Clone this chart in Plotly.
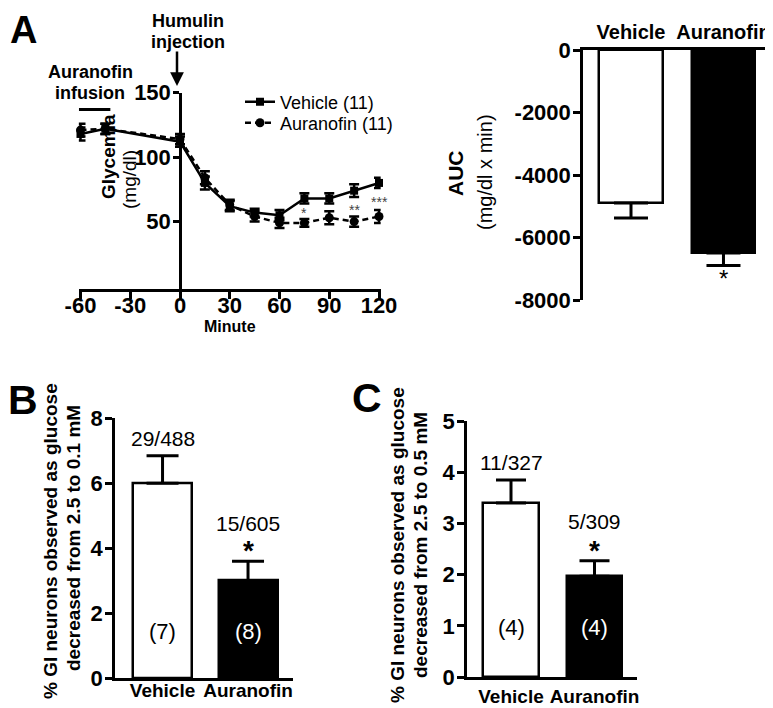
import plotly.graph_objects as go

# Window is 773x708, but the page body keeps its default 8px margin,
# so the figure is drawn 8px in from the top-left corner.
W, H = 773, 708
OX, OY = 8, 8
FW, FH = W - OX, H - OY
FONT = "Arial, 'Liberation Sans', Helvetica, sans-serif"

# ---------------- data ----------------
# Panel A - glycemia time course
minutes = [-60, -45, 0, 15, 30, 45, 60, 75, 90, 105, 120]
vehicle_glyc = [118, 122, 112, 80, 62, 57, 55, 68, 68, 74, 80]
vehicle_glyc_sem = [5, 4, 4, 5, 4, 3, 4, 4, 4, 5, 4]
auranofin_glyc = [121, 122, 114, 84, 63, 54, 49, 49, 53, 50, 54]
auranofin_glyc_sem = [5, 4, 4, 5, 4, 4, 4, 3, 5, 4, 5]
minute_ticks = [-60, -30, 0, 30, 60, 90, 120]
minute_tick_labels = ["-60", "-30", "0", "30", "60", "90", "120"]
glyc_ticks = [50, 100, 150]
sig_minutes = [75, 105, 120]
sig_labels = ["*", "**", "***"]
sig_y = [57, 59, 65]
infusion_start, infusion_end, infusion_level = -61, -42, 137

# Panel A - AUC
groups = ["Vehicle", "Auranofin"]
auc = [-4900, -6500]
auc_sem = [480, 400]
auc_ticks = [0, -2000, -4000, -6000, -8000]
auc_tick_labels = ["0", "-2000", "-4000", "-6000", "-8000"]
auc_sig = ["", "*"]
auc_sig_y = -7300

# Panel B
pct_b = [6.0, 3.0]
pct_b_sem = [0.85, 0.6]
ratio_b = ["29/488", "15/605"]
ratio_b_y = [7.38, 4.77]
n_b = ["(7)", "(8)"]
n_b_y = 1.42
sig_b = ["", "*"]
sig_b_y = 3.94
ticks_b = [0, 2, 4, 6, 8]

# Panel C
pct_c = [3.4, 1.97]
pct_c_sem = [0.45, 0.3]
ratio_c = ["11/327", "5/309"]
ratio_c_y = [4.18, 3.03]
n_c = ["(4)", "(4)"]
n_c_y = 0.96
sig_c = ["", "*"]
sig_c_y = 2.48
ticks_c = [0, 1, 2, 3, 4, 5]

bar_fill = ["white", "black"]
n_text_color = ["black", "white"]


def px(x):
    return (x - OX) / FW


def py(y):
    return 1 - (y - OY) / FH


fig = go.Figure()

# ---- Panel A line chart
fig.add_trace(go.Scatter(
    x=minutes, y=vehicle_glyc, name="Vehicle (11)", mode="lines+markers",
    line=dict(color="black", width=2.5),
    marker=dict(symbol="square", size=8, color="black"),
    error_y=dict(type="data", array=vehicle_glyc_sem, color="black", thickness=2.5, width=5),
    cliponaxis=False, xaxis="x", yaxis="y", legend="legend"))
fig.add_trace(go.Scatter(
    x=minutes, y=auranofin_glyc, name="Auranofin (11)", mode="lines+markers",
    line=dict(color="black", width=2.5, dash="6px,4px"),
    marker=dict(symbol="circle", size=9, color="black"),
    error_y=dict(type="data", array=auranofin_glyc_sem, color="black", thickness=2.5, width=5),
    cliponaxis=False, xaxis="x", yaxis="y", legend="legend2"))

# ---- AUC bars
fig.add_trace(go.Bar(
    x=groups, y=auc, width=0.69, showlegend=False,
    marker=dict(color=bar_fill, line=dict(color="black", width=2.5)),
    error_y=dict(type="data", symmetric=False, array=[0, 0], arrayminus=auc_sem,
                 color="black", thickness=3, width=17),
    xaxis="x2", yaxis="y2"))

# ---- Panel B bars
fig.add_trace(go.Bar(
    x=groups, y=pct_b, width=0.69, showlegend=False,
    marker=dict(color=bar_fill, line=dict(color="black", width=2.5)),
    error_y=dict(type="data", symmetric=False, array=pct_b_sem, arrayminus=[0, 0],
                 color="black", thickness=3, width=16),
    xaxis="x3", yaxis="y3"))

# ---- Panel C bars
fig.add_trace(go.Bar(
    x=groups, y=pct_c, width=0.67, showlegend=False,
    marker=dict(color=bar_fill, line=dict(color="black", width=2.5)),
    error_y=dict(type="data", symmetric=False, array=pct_c_sem, arrayminus=[0, 0],
                 color="black", thickness=3, width=15),
    xaxis="x4", yaxis="y4"))


def axis(**kw):
    d = dict(showgrid=False, zeroline=False, showline=True, linecolor="black", linewidth=2.5,
             ticks="outside", ticklen=7, tickwidth=2.5, tickcolor="black", automargin=False,
             tickfont=dict(family=FONT, size=22, color="black", weight="bold"))
    d.update(kw)
    return d


def cat_font(size):
    return dict(family=FONT, size=size, color="black", weight="bold")


legend_style = dict(xanchor="left", yanchor="middle", font=dict(family=FONT, size=18, color="black"),
                    bgcolor="rgba(0,0,0,0)", itemwidth=30, borderwidth=0)

fig.update_layout(
    template="none",
    width=FW, height=FH, margin=dict(l=0, r=0, t=0, b=0, pad=0, autoexpand=False), autosize=False,
    paper_bgcolor="white", plot_bgcolor="rgba(0,0,0,0)",
    font=dict(family=FONT, color="black"),
    bargap=0,
    xaxis=axis(domain=[px(78.84), px(380.66)], range=[-61, 121], anchor="y",
               tickvals=minute_ticks, ticktext=minute_tick_labels, ticklabelstandoff=-12),
    yaxis=axis(domain=[py(289.3), py(92.7)], range=[-2.5, 150], anchor="free",
               position=px(180), tickvals=glyc_ticks, ticklen=6, ticklabelstandoff=-2),
    xaxis2=axis(domain=[px(583), px(770)], range=[-0.519, 1.503], anchor="y2", side="top",
                type="category", categoryorder="array", categoryarray=groups,
                ticks="", tickfont=cat_font(20)),
    yaxis2=axis(domain=[py(300), py(50)], range=[-8000, 0], anchor="x2",
                tickvals=auc_ticks, ticktext=auc_tick_labels, ticklabelstandoff=-2),
    xaxis3=axis(domain=[px(115), px(293)], range=[-0.556, 1.526], anchor="y3",
                type="category", categoryorder="array", categoryarray=groups,
                ticks="", tickfont=cat_font(19), ticklabelstandoff=-7),
    yaxis3=axis(domain=[py(678), py(418.3)], range=[0, 8], anchor="x3", tickvals=ticks_b,
                ticklabelstandoff=-2),
    xaxis4=axis(domain=[px(467), px(637)], range=[-0.527, 1.509], anchor="y4",
                type="category", categoryorder="array", categoryarray=groups,
                ticks="", tickfont=cat_font(19), ticklabelstandoff=0),
    yaxis4=axis(domain=[py(677), py(421)], range=[0, 5], anchor="x4", tickvals=ticks_c,
                ticklabelstandoff=-2),
    legend=dict(x=px(240), y=py(102), **legend_style),
    legend2=dict(x=px(240), y=py(123), **legend_style),
)

ann = []


def txt(x, y, text, size, bold=False, color="black", xref="paper", yref="paper", angle=0, **kw):
    a = dict(x=x, y=y, xref=xref, yref=yref, text=text, showarrow=False, textangle=angle,
             font=dict(family=FONT, size=size, color=color, weight="bold" if bold else "normal"),
             xanchor="center", yanchor="middle")
    a.update(kw)
    ann.append(a)


# panel letters
txt(px(24), py(30), "A", 38, bold=True)
txt(px(23), py(400), "B", 41, bold=True)
txt(px(367), py(398), "C", 41, bold=True)

# Panel A texts
txt(px(188), py(21), "Humulin", 18, bold=True)
txt(px(188), py(42), "injection", 18, bold=True)
txt(px(90), py(72), "Auranofin", 18, bold=True)
txt(px(90), py(93), "infusion", 18, bold=True)
txt(px(108), py(157), "Glycemia", 19, bold=True, angle=-90)
txt(px(129), py(180), "(mg/dl)", 19, angle=-90)
txt(px(230), py(326), "Minute", 16, bold=True)
for m, s, yv in zip(sig_minutes, sig_labels, sig_y):
    txt(m, yv, s, 14, color="#444444", xref="x", yref="y")

# Humulin arrow
ann.append(dict(x=px(177), y=py(86), xref="paper", yref="paper", text="", showarrow=True,
                ax=0, ay=-36, axref="pixel", ayref="pixel", arrowhead=2, arrowsize=1.1,
                arrowwidth=2.5, arrowcolor="black"))

# AUC texts
txt(px(455), py(173), "AUC", 21, bold=True, angle=-90)
txt(px(485), py(172), "(mg/dl x min)", 20, angle=-90)
for g, s in zip(groups, auc_sig):
    if s:
        txt(g, auc_sig_y, s, 24, xref="x2", yref="y2")

# Panel B texts
txt(px(50), py(541), "% GI neurons observed as glucose", 19, bold=True, angle=-90)
txt(px(73), py(538), "decreased from 2.5 to 0.1 mM", 19, bold=True, angle=-90)
for g, r, ry, n, nc, s in zip(groups, ratio_b, ratio_b_y, n_b, n_text_color, sig_b):
    txt(g, ry, r, 21, xref="x3", yref="y3")
    txt(g, n_b_y, n, 22, color=nc, xref="x3", yref="y3")
    if s:
        txt(g, sig_b_y, s, 28, bold=True, xref="x3", yref="y3")

# Panel C texts
txt(px(397), py(545), "% GI neurons observed as glucose", 19, bold=True, angle=-90)
txt(px(420), py(545), "decreased from 2.5 to 0.5 mM", 19, bold=True, angle=-90)
for g, r, ry, n, nc, s in zip(groups, ratio_c, ratio_c_y, n_c, n_text_color, sig_c):
    txt(g, ry, r, 21, xref="x4", yref="y4")
    txt(g, n_c_y, n, 22, color=nc, xref="x4", yref="y4")
    if s:
        txt(g, sig_c_y, s, 28, bold=True, xref="x4", yref="y4")

fig.update_layout(annotations=ann)

# infusion period bar
fig.add_shape(type="line", xref="x", yref="y", x0=infusion_start, x1=infusion_end,
              y0=infusion_level, y1=infusion_level, line=dict(color="black", width=3))

fig.write_html("out.html")
